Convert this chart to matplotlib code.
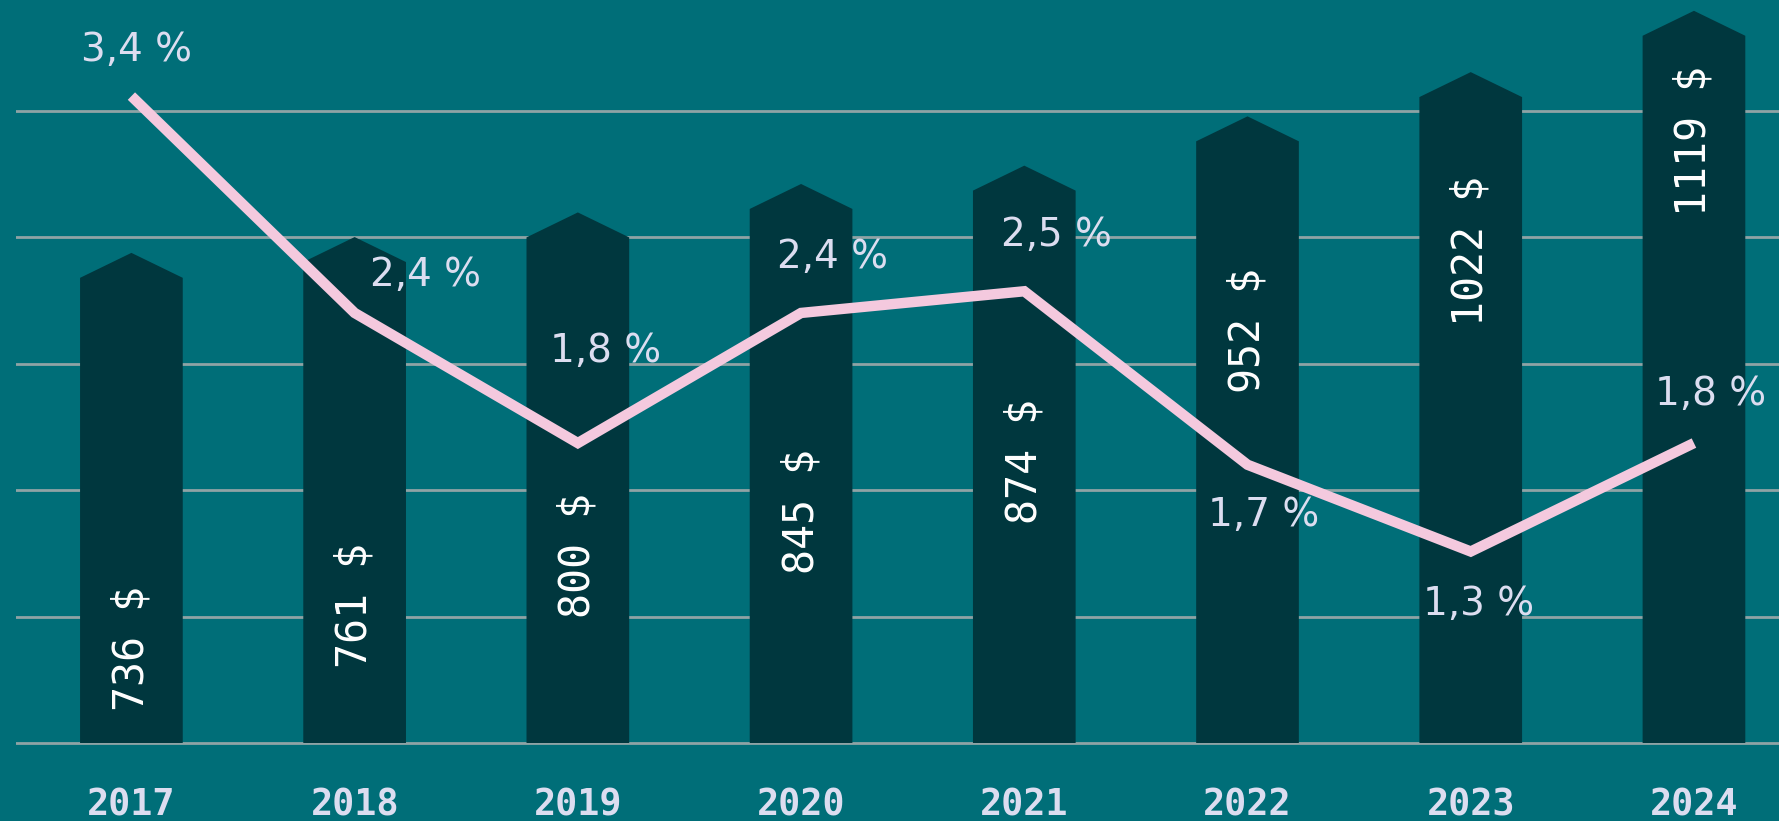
import numpy as np
import matplotlib
matplotlib.use("Agg")
import matplotlib.pyplot as plt

# Average monthly wage (bars, $) and yearly growth rate (line, %)
years = ["2017", "2018", "2019", "2020", "2021", "2022", "2023", "2024"]
wages = [736, 761, 800, 845, 874, 952, 1022, 1119]
growth = [3.4, 2.4, 1.8, 2.4, 2.5, 1.7, 1.3, 1.8]

# where the rotated wage labels sit inside each bar (wage units)
wage_label_y = [149, 217, 297, 367, 445, 652, 778, 953]
# pixel offsets of the growth labels from their line points
growth_offsets = [(5, 46), (71, 38), (28, 92), (31, 56), (32, 56), (16, -50), (8, -52), (17, 49)]

BG = "#006E78"
BAR = "#00373E"
GRID = "#8FA3A5"
LINE = "#F4C9DE"
TEXT = "#DCDDF0"

fig = plt.figure(figsize=(17.79, 8.21), dpi=100, facecolor=BG)
# axes bottom sits a few pixels under the zero line so the baseline is not clipped
ax = fig.add_axes([16 / 1779, 75 / 821, 1 - 16 / 1779, 746 / 821])
ax.set_facecolor(BG)

x = np.arange(len(years))
width = 0.46
tip = 39.5  # height of the pointed cap, in wage units

# arrow-shaped bars: rectangle with a pointed top
for xi, w in zip(x, wages):
    left, right = xi - width / 2, xi + width / 2
    ax.fill([left, left, xi, right, right], [0, w, w + tip, w, 0],
            color=BAR, linewidth=0, zorder=2)

for xi, w, ly in zip(x, wages, wage_label_y):
    ax.text(xi, ly, f"{w} $", rotation=90, ha="center", va="center",
            color="white", fontsize=30, family="DejaVu Sans Mono", zorder=3)

ax.set_xlim(-0.517, 7.381)
ax.set_ylim(-4.75, 1175.6)
ax.set_yticks([0, 200, 400, 600, 800, 1000])
ax.yaxis.grid(True, color=GRID, linewidth=2)
ax.set_axisbelow(True)
ax.set_xticks(x)
ax.set_xticklabels(years, family="DejaVu Sans Mono", fontsize=26.5, fontweight="bold", color=TEXT)
for s in ax.spines.values():
    s.set_visible(False)

# growth rate on its own scale
ax2 = ax.twinx()
ax2.plot(x, growth, color=LINE, linewidth=7.5, solid_joinstyle="miter", solid_capstyle="butt", zorder=4)
ax2.set_ylim(0.417 - 3 / 216.9, 3.843)
ax2.set_yticks([])
for s in ax2.spines.values():
    s.set_visible(False)

ax.tick_params(axis="y", left=False, right=False, labelleft=False, length=0)
ax.tick_params(axis="x", length=0, pad=29)

for xi, g, (dx, dy) in zip(x, growth, growth_offsets):
    ax2.annotate(f"{g:.1f} %".replace(".", ","), (xi, g), xytext=(dx, dy),
                 textcoords="offset pixels", ha="center", va="center",
                 fontsize=28, color=TEXT, family="DejaVu Sans")

fig.savefig("out.png", dpi=100, facecolor=BG)
